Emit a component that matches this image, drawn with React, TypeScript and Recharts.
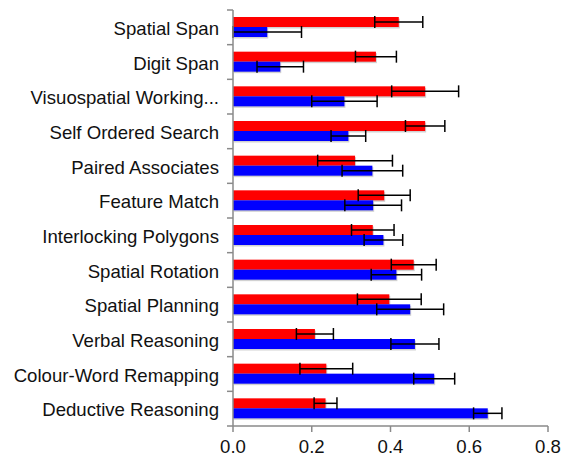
import { BarChart, Bar, XAxis, YAxis, ErrorBar } from "recharts";

const categories = [
    "Spatial Span",
    "Digit Span",
    "Visuospatial Working...",
    "Self Ordered Search",
    "Paired Associates",
    "Feature Match",
    "Interlocking Polygons",
    "Spatial Rotation",
    "Spatial Planning",
    "Verbal Reasoning",
    "Colour-Word Remapping",
    "Deductive Reasoning",
];
const redValues = [0.421, 0.363, 0.488, 0.488, 0.31, 0.384, 0.355, 0.459, 0.397, 0.208, 0.237, 0.235];
const redErrors = [0.061, 0.052, 0.085, 0.05, 0.095, 0.066, 0.054, 0.057, 0.081, 0.047, 0.067, 0.029];
const blueValues = [0.087, 0.12, 0.283, 0.293, 0.354, 0.356, 0.382, 0.415, 0.45, 0.462, 0.511, 0.647];
const blueErrors = [0.087, 0.059, 0.083, 0.044, 0.077, 0.072, 0.049, 0.064, 0.085, 0.061, 0.052, 0.036];
const xTicks = [0, 0.2, 0.4, 0.6, 0.8];

const data = categories.map((name, i) => ({
    name,
    red: redValues[i],
    redErr: redErrors[i],
    blue: blueValues[i],
    blueErr: blueErrors[i],
}));

const W = 575;
const H = 458;
const TOP = 10;
const X_AXIS_H = 32;
const Y_AXIS_W = 233;
const TICK = 6;
const TICK_GAP = 8;
const AXIS_COLOR = "#8a8a8a";
const FONT = "'Liberation Sans', Arial, Helvetica, sans-serif";

const step = (H - TOP - X_AXIS_H) / categories.length;

const CategoryTick = (props: any) => {
    const { x, y, payload, index } = props;
    const axisX = x + TICK + TICK_GAP;
    return (
        <g>
            <line x1={axisX - TICK} x2={axisX} y1={y - step / 2} y2={y - step / 2} stroke={AXIS_COLOR} strokeWidth={1.5} />
            {index === categories.length - 1 && (
                <line x1={axisX - TICK} x2={axisX} y1={y + step / 2} y2={y + step / 2} stroke={AXIS_COLOR} strokeWidth={1.5} />
            )}
            <text x={x} y={y + 7.5} textAnchor="end" fontSize={18.6} fill="#111" fontFamily={FONT}>
                {payload.value}
            </text>
        </g>
    );
};

// bar with a faint drop shadow, like the original
const ShadowBar = (props: any) => {
    const { x, y, width, height, fill } = props;
    if (!width || width <= 0) return null;
    return (
        <g>
            <rect x={x + 1} y={y + 1.5} width={width} height={height} fill="rgba(0,0,0,0.18)" />
            <rect x={x} y={y} width={width} height={height} fill={fill} />
        </g>
    );
};

export default function App() {
    return (
        <div style={{ position: "absolute", left: 0, top: 0, width: W, height: H, background: "#fff" }}>
            <BarChart
                width={W}
                height={H}
                data={data}
                layout="vertical"
                margin={{ top: TOP, right: 27, bottom: 0, left: 0 }}
                barSize={10}
                barGap={0}
            >
                <XAxis
                    type="number"
                    domain={[0, 0.8]}
                    ticks={xTicks}
                    tickFormatter={(v: number) => v.toFixed(1)}
                    height={X_AXIS_H}
                    tickSize={TICK}
                    tickMargin={8}
                    stroke={AXIS_COLOR}
                    strokeWidth={1.5}
                    tick={{ fill: "#111", fontSize: 18.6, fontFamily: FONT }}
                />
                <YAxis
                    type="category"
                    dataKey="name"
                    width={Y_AXIS_W}
                    tickSize={TICK}
                    tickMargin={TICK_GAP}
                    tickLine={false}
                    stroke={AXIS_COLOR}
                    strokeWidth={1.5}
                    interval={0}
                    tick={<CategoryTick />}
                />
                <Bar dataKey="red" fill="#ff0000" shape={<ShadowBar />} isAnimationActive={false}>
                    <ErrorBar dataKey="redErr" direction="x" width={6} stroke="#000" strokeWidth={1.5} />
                </Bar>
                <Bar dataKey="blue" fill="#0000ff" shape={<ShadowBar />} isAnimationActive={false}>
                    <ErrorBar dataKey="blueErr" direction="x" width={6} stroke="#000" strokeWidth={1.5} />
                </Bar>
            </BarChart>
        </div>
    );
}
